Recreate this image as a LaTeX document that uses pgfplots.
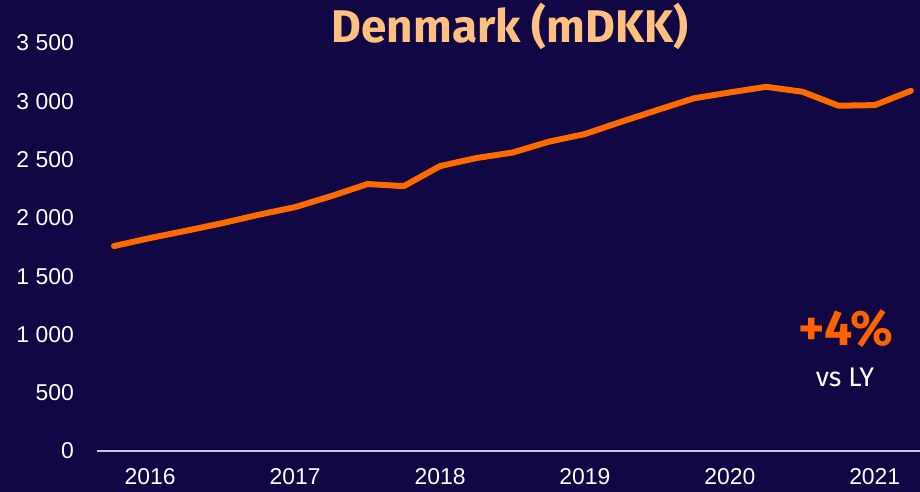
\documentclass[border=0pt]{standalone}
\usepackage{pgfplots}
\pgfplotsset{compat=1.18}
\usepackage{fontspec}
\setmainfont{Liberation Sans}
\newfontfamily\titlefont{Fira Sans}
\definecolor{bg}{HTML}{110744}
\definecolor{lineor}{HTML}{FF6A00}
\definecolor{peach}{HTML}{FFC080}
\definecolor{pct}{HTML}{FF6200}
\definecolor{axisgray}{HTML}{C8C8D4}
\begin{document}
\begin{tikzpicture}[x=1bp,y=1bp]
\useasboundingbox (0,0) rectangle (920,492);
\fill[bg] (0,0) rectangle (920,492);
\begin{axis}[
  at={(97bp,41bp)}, anchor=south west,
  scale only axis, width=823bp, height=408bp,
  xmin=-0.469, xmax=22.25, ymin=0, ymax=3500,
  axis x line*=bottom, axis y line*=left,
  x axis line style={axisgray, line width=2bp, -},
  y axis line style={draw=none},
  xtick={1,5,9,13,17,21},
  xticklabels={2016,2017,2018,2019,2020,2021},
  ytick={0,500,1000,1500,2000,2500,3000,3500},
  yticklabels={0,500,1 000,1 500,2 000,2 500,3 000,3 500},
  /pgf/number format/assume math mode=true,
  major tick length=0pt,
  tick style={draw=none},
  ticklabel style={font=\fontsize{23}{26}\selectfont, text=white, inner sep=0pt},
  xticklabel style={anchor=north, yshift=-17bp},
  yticklabel style={anchor=east, xshift=-23bp},
  clip=false,
]
\addplot[lineor, line width=6bp, line cap=round, line join=round] coordinates {
(0,1758) (1,1827) (2,1890) (3,1955) (4,2027) (5,2092) (6,2187) (7,2290)
(8,2272) (9,2444) (10,2513) (11,2560) (12,2653) (13,2719) (14,2824) (15,2925)
(16,3025) (17,3076) (18,3124) (19,3082) (20,2962) (21,2967) (22,3090)
};
\end{axis}
\node[anchor=base, inner sep=0pt, text=peach, font=\titlefont\bfseries\fontsize{46}{50}\selectfont] at (510,449) {Denmark (mDKK)};
\node[anchor=base, inner sep=0pt, text=pct, font=\titlefont\bfseries\fontsize{50}{54}\selectfont] at (846,146) {+4\%};
\node[anchor=base, inner sep=0pt, text=white, font=\titlefont\fontsize{27}{30}\selectfont] at (845,105) {vs LY};
\end{tikzpicture}
\end{document}
